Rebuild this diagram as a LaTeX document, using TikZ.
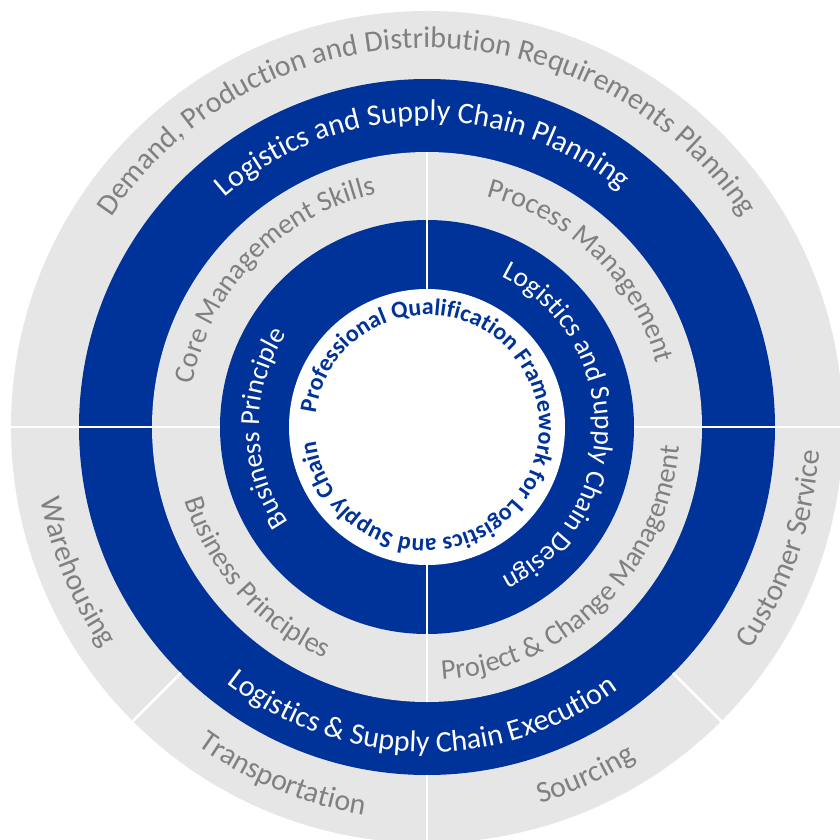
\documentclass[tikz,border=0pt]{standalone}
\usepackage{fontspec}
\setmainfont{Carlito}
\usetikzlibrary{decorations.text}
\definecolor{ringblue}{RGB}{0,51,153}
\definecolor{ringgray}{RGB}{230,230,230}
\definecolor{labelgray}{RGB}{128,128,128}
\newcommand{\outergray}{\fontsize{30}{32}\selectfont\color{labelgray}}
\newcommand{\outerwhite}{\fontsize{30}{32}\selectfont\color{white}}
\newcommand{\innergray}{\fontsize{28.5}{30}\selectfont\color{labelgray}}
\newcommand{\innerwhite}{\fontsize{27.5}{30}\selectfont\color{white}}
\newcommand{\corelabel}{\fontsize{24}{26}\selectfont\bfseries\color{ringblue}}
\tikzset{
    divider/.style={white, line width=2.5pt},
    ringlabel/.style={decorate, decoration={text along path, text align=center, text={#1}}},
}

\begin{document}
\begin{tikzpicture}
    \useasboundingbox (-427pt,-412pt) rectangle (413pt,427pt);
    \fill[white] (-427pt,-412pt) rectangle (413pt,427pt);
    \fill[ringgray] (0,0) circle[radius=416pt];
    \fill[ringblue] (0,0) circle[radius=348pt];
    \fill[ringgray] (0,0) circle[radius=275pt];
    \fill[ringblue] (0,0) circle[radius=207pt];
    \fill[white] (0,0) circle[radius=138pt];
    \foreach \a in {0,180}
        \draw[divider] (\a:207pt) -- (\a:416pt);
    \foreach \a in {90,-90}
        \draw[divider] (\a:138pt) -- (\a:275pt);
    \foreach \a in {-45,-90,-135}
        \draw[divider] (\a:348pt) -- (\a:416pt);
    \path[ringlabel={|\outergray|Demand, Production and Distribution Requirements Planning}]
        (160:379pt) arc[start angle=160, end angle=20, radius=379pt];
    \path[ringlabel={|\outergray|Customer Service}]
        (-49:393pt) arc[start angle=-49, end angle=11, radius=393pt];
    \path[ringlabel={|\outergray|Sourcing}]
        (-95.5:393pt) arc[start angle=-95.5, end angle=-35.5, radius=393pt];
    \path[ringlabel={|\outergray|Transportation}]
        (-142.5:393pt) arc[start angle=-142.5, end angle=-82.5, radius=393pt];
    \path[ringlabel={|\outergray|Warehousing}]
        (-187.5:393pt) arc[start angle=-187.5, end angle=-127.5, radius=393pt];
    \path[ringlabel={|\outerwhite|Logistics and Supply Chain Planning}]
        (161:306pt) arc[start angle=161, end angle=21, radius=306pt];
    \path[ringlabel={|\outerwhite|Logistics {\&} Supply Chain Execution}]
        (-161:325pt) arc[start angle=-161, end angle=-21, radius=325pt];
    \path[ringlabel={|\innergray|Core Management Skills}]
        (181:238pt) arc[start angle=181, end angle=91, radius=238pt];
    \path[ringlabel={|\innergray|Process Management}]
        (90.5:238pt) arc[start angle=90.5, end angle=0.5, radius=238pt];
    \path[ringlabel={|\innergray|Project {\&} Change Management}]
        (-95.5:253pt) arc[start angle=-95.5, end angle=4.5, radius=253pt];
    \path[ringlabel={|\innergray|Business Principles}]
        (-183.5:253pt) arc[start angle=-183.5, end angle=-93.5, radius=253pt];
    \path[ringlabel={|\innerwhite|Business Principle}]
        (230.5:168pt) arc[start angle=230.5, end angle=130.5, radius=168pt];
    \path[ringlabel={|\innerwhite|Logistics and Supply Chain Design}]
        (80:168pt) arc[start angle=80, end angle=-80, radius=168pt];
    \path[ringlabel={|\corelabel|Professional Qualification Framework for Logistics and Supply Chain}]
        (185:112pt) arc[start angle=185, end angle=-185, radius=112pt];
\end{tikzpicture}
\end{document}
